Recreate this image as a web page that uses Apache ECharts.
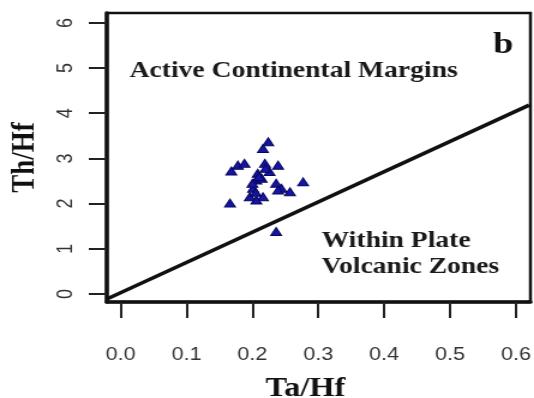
<!DOCTYPE html>
<html>
<head>
<meta charset="utf-8">
<script src="https://cdn.jsdelivr.net/npm/echarts@6/dist/echarts.min.js"></script>
<style>
  html, body { margin: 0; padding: 0; background: #fff; overflow: hidden; }
  /* the figure is drawn narrow and widened 1.2x, giving its broad lettering */
  #chart { width: 445px; height: 398px; transform: scaleX(1.2); transform-origin: 0 0; }
</style>
</head>
<body>
<div id="chart"></div>
<script>
// Ta/Hf and Th/Hf ratios of the samples
const taHf = [0.224, 0.216, 0.168, 0.178, 0.188, 0.219, 0.239, 0.208, 0.206, 0.214,
              0.226, 0.236, 0.244, 0.257, 0.239, 0.277, 0.201, 0.196, 0.216, 0.206,
              0.166, 0.236, 0.210, 0.200, 0.205, 0.220];
const thHf = [3.37, 3.22, 2.72, 2.85, 2.89, 2.89, 2.85, 2.67, 2.52, 2.56,
              2.71, 2.45, 2.34, 2.26, 2.30, 2.48, 2.34, 2.15, 2.15, 2.08,
              2.01, 1.38, 2.60, 2.45, 2.25, 2.78];

// Boundary line between the two tectonic fields
const boundaryX = [-0.02, 0.62];
const boundaryY = [-0.11, 4.18];

// Tick positions
const xTicks = [0.0, 0.1, 0.2, 0.3, 0.4, 0.5, 0.6];
const yTicks = [0, 1, 2, 3, 4, 5, 6];

const serif = '"Liberation Serif", "DejaVu Serif", serif';
const sans = '"Liberation Sans", Arial, sans-serif';

const chart = echarts.init(document.getElementById('chart'));
chart.setOption({
  backgroundColor: '#fff',
  animation: false,
  grid: {
    left: 89, right: 3, top: 13, bottom: 96,
    outerBoundsMode: 'none', containLabel: false,
    show: true, borderColor: '#111', borderWidth: 2.5
  },
  xAxis: {
    type: 'value', min: -0.021, max: 0.622,
    name: 'Ta/Hf', nameLocation: 'middle', nameGap: 74,
    nameTextStyle: { fontFamily: serif, fontWeight: 'bold', fontSize: 27, color: '#111', padding: [0, 22, 0, 0] },
    axisLine: { show: true, onZero: false, lineStyle: { color: '#111', width: 3.5 } },
    axisTick: { show: true, customValues: xTicks, length: 16, lineStyle: { color: '#222', width: 2 } },
    axisLabel: {
      customValues: xTicks, margin: 44,
      fontFamily: sans, fontSize: 18, color: '#333',
      formatter: v => v.toFixed(1)
    },
    splitLine: { show: false }
  },
  yAxis: {
    type: 'value', min: -0.18, max: 6.22,
    name: 'Th/Hf', nameLocation: 'middle', nameGap: 54,
    nameTextStyle: { fontFamily: serif, fontWeight: 'bold', fontSize: 27, color: '#111' },
    axisLine: { show: true, onZero: false, lineStyle: { color: '#111', width: 3.5 } },
    axisTick: { show: true, customValues: yTicks, length: 15, lineStyle: { color: '#222', width: 2 } },
    axisLabel: {
      customValues: yTicks, margin: 25, rotate: 90,
      fontFamily: sans, fontSize: 18, color: '#333',
      formatter: v => String(v)
    },
    splitLine: { show: false }
  },
  graphic: [
    { type: 'text', left: 108, top: 60, style: { text: 'Active Continental Margins', font: 'bold 23px ' + serif, fill: '#1a1a1a' } },
    { type: 'text', left: 268, top: 230, style: { text: 'Within Plate', font: 'bold 23px ' + serif, fill: '#1a1a1a' } },
    { type: 'text', left: 268, top: 256, style: { text: 'Volcanic Zones', font: 'bold 23px ' + serif, fill: '#1a1a1a' } },
    { type: 'text', left: 411, top: 30, style: { text: 'b', font: 'bold 30px ' + serif, fill: '#111' } }
  ],
  series: [
    {
      type: 'line',
      data: boundaryX.map((x, i) => [x, boundaryY[i]]),
      showSymbol: false, symbol: 'none',
      lineStyle: { color: '#111', width: 3.5 },
      z: 3
    },
    {
      type: 'scatter',
      data: taHf.map((x, i) => [x, thHf[i]]),
      symbol: 'triangle', symbolSize: [9, 8],
      itemStyle: { color: '#1515a8', borderColor: '#08085a', borderWidth: 1, opacity: 1 },
      z: 4
    }
  ]
});
</script>
</body>
</html>
